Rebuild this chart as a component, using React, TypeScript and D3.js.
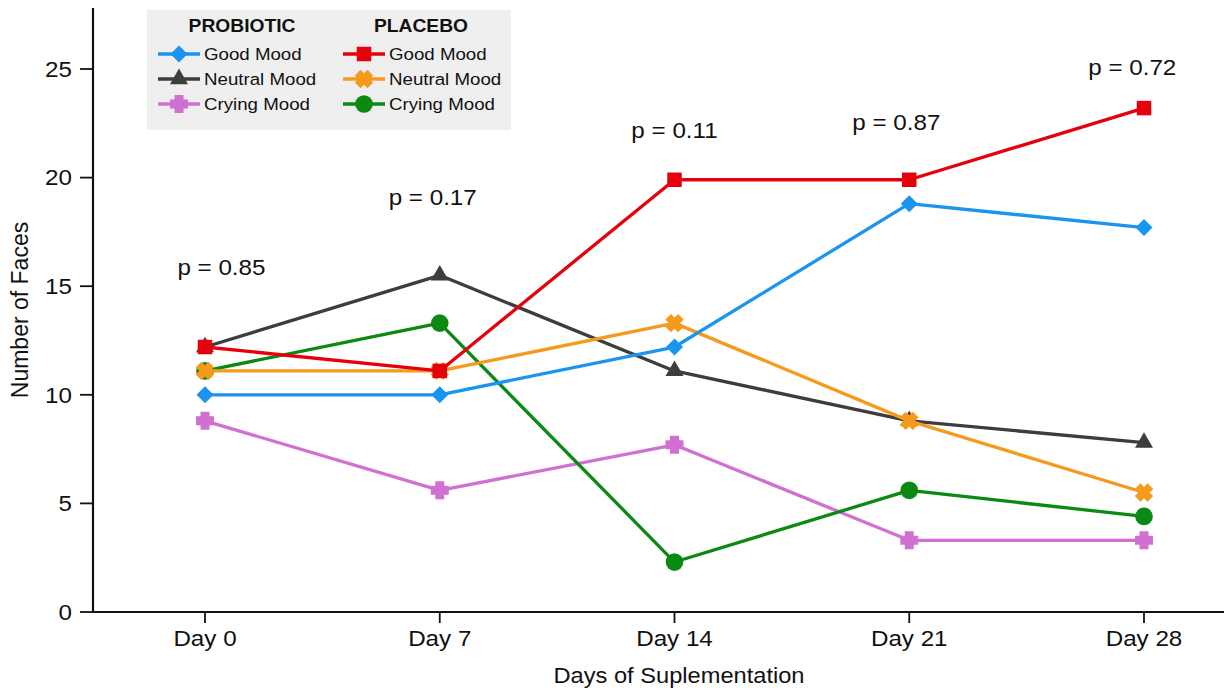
import React from 'react';
import * as d3 from 'd3';

const W = 1224, H = 691;
const margin = { top: 8, right: 0, bottom: 79, left: 93 };

// data
const days = ['Day 0', 'Day 7', 'Day 14', 'Day 21', 'Day 28'];
const yTicks = [0, 5, 10, 15, 20, 25];

const probioticGood = [10, 10, 12.2, 18.8, 17.7];
const probioticNeutral = [12.2, 15.5, 11.1, 8.8, 7.8];
const probioticCrying = [8.8, 5.6, 7.7, 3.3, 3.3];
const placeboGood = [12.2, 11.1, 19.9, 19.9, 23.2];
const placeboNeutral = [11.1, 11.1, 13.3, 8.8, 5.5];
const placeboCrying = [11.1, 13.3, 2.3, 5.6, 4.4];

const pLabels = ['p = 0.85', 'p = 0.17', 'p = 0.11', 'p = 0.87', 'p = 0.72'];
const pY = [15.85, 19.1, 22.2, 22.55, 25.1];
const pShift = [0.07, -0.03, 0.0, -0.055, -0.05];

const FONT = '"Liberation Sans", Arial, sans-serif';
const SX = 1.1; // text looks a bit wider than plain Arial

type Mk = 'diamond' | 'triangle' | 'cross' | 'square' | 'xcross' | 'circle';

const series: { name: string; group: string; values: number[]; color: string; marker: Mk }[] = [
  { name: 'Good Mood', group: 'PROBIOTIC', values: probioticGood, color: '#1a95ef', marker: 'diamond' },
  { name: 'Neutral Mood', group: 'PROBIOTIC', values: probioticNeutral, color: '#3d3d3d', marker: 'triangle' },
  { name: 'Crying Mood', group: 'PROBIOTIC', values: probioticCrying, color: '#d070d0', marker: 'cross' },
  { name: 'Good Mood', group: 'PLACEBO', values: placeboGood, color: '#e5000c', marker: 'square' },
  { name: 'Neutral Mood', group: 'PLACEBO', values: placeboNeutral, color: '#f59a1c', marker: 'xcross' },
  { name: 'Crying Mood', group: 'PLACEBO', values: placeboCrying, color: '#0a8a12', marker: 'circle' },
];

// draw order: back to front as in figure
const drawOrder = [2, 5, 1, 4, 0, 3];

function crossPath(L: number, w: number) {
  const h = w / 2;
  const p = d3.path();
  p.moveTo(-h, -L); p.lineTo(h, -L); p.lineTo(h, -h); p.lineTo(L, -h); p.lineTo(L, h);
  p.lineTo(h, h); p.lineTo(h, L); p.lineTo(-h, L); p.lineTo(-h, h); p.lineTo(-L, h);
  p.lineTo(-L, -h); p.lineTo(-h, -h); p.closePath();
  return p.toString();
}

function markerPath(m: Mk): { d: string; rotate: number } {
  switch (m) {
    case 'diamond': return { d: d3.symbol(d3.symbolSquare, 145)()!, rotate: 45 };
    case 'triangle': return { d: d3.symbol(d3.symbolTriangle, 140)()!, rotate: 0 };
    case 'cross': return { d: crossPath(9, 9), rotate: 0 };
    case 'square': return { d: d3.symbol(d3.symbolSquare, 210)()!, rotate: 0 };
    case 'xcross': return { d: crossPath(9, 8), rotate: 45 };
    case 'circle': return { d: d3.symbol(d3.symbolCircle, 245)()!, rotate: 0 };
  }
}

function Marker({ m, x, y, color }: { m: Mk; x: number; y: number; color: string }) {
  const p = markerPath(m);
  return <path d={p.d} fill={color} transform={`translate(${x},${y}) rotate(${p.rotate})`} />;
}

function T({ x, y, children, anchor = 'start', size = 22, weight = 'normal', dy = '0' }:
  { x: number; y: number; children: React.ReactNode; anchor?: string; size?: number; weight?: string; dy?: string }) {
  return (
    <text transform={`translate(${x},${y}) scale(${SX},1)`} dy={dy} textAnchor={anchor}
      fontSize={size} fontWeight={weight} fill="#111">{children}</text>
  );
}

export default function App() {
  const x = d3.scaleLinear().domain([0, 4]).range([205, 1144]);
  const y = d3.scaleLinear().domain([0, 25]).range([612, 69]);

  const line = d3.line<number>().x((_, i) => x(i)).y(d => y(d));

  const x0 = margin.left;
  const y0 = y(0);

  return (
    <svg width={W} height={H} style={{ position: 'fixed', left: 0, top: 0, background: '#fff' }} fontFamily={FONT}>
      <rect width={W} height={H} fill="#fff" />

      {/* axes */}
      <line x1={x0} x2={x0} y1={margin.top} y2={y0 + 1} stroke="#111" strokeWidth={2.2} />
      <line x1={x0 - 1} x2={W} y1={y0} y2={y0} stroke="#111" strokeWidth={2.2} />
      {yTicks.map(t => (
        <g key={t}>
          <line x1={x0 - 13} x2={x0} y1={y(t)} y2={y(t)} stroke="#111" strokeWidth={1.8} />
          <T x={x0 - 21} y={y(t)} dy="0.35em" anchor="end">{t}</T>
        </g>
      ))}
      {days.map((d, i) => (
        <g key={d}>
          <line x1={x(i)} x2={x(i)} y1={y0} y2={y0 + 11} stroke="#111" strokeWidth={1.8} />
          <T x={x(i)} y={y0 + 34} anchor="middle">{d}</T>
        </g>
      ))}
      <T x={679} y={683} anchor="middle" size={21.5}>Days of Suplementation</T>
      <text transform={`translate(28,310) rotate(-90)`} textAnchor="middle" fontSize={23} fill="#111">Number of Faces</text>

      {/* p-values */}
      {pLabels.map((p, i) => (
        <T key={p} x={x(i + pShift[i])} y={y(pY[i])} dy="0.35em" anchor="middle">{p}</T>
      ))}

      {/* lines */}
      {drawOrder.map(k => {
        const s = series[k];
        return (
          <g key={k}>
            <path d={line(s.values)!} fill="none" stroke={s.color} strokeWidth={3.3} strokeLinejoin="round" />
            {s.values.map((v, i) => <Marker key={i} m={s.marker} x={x(i)} y={y(v)} color={s.color} />)}
          </g>
        );
      })}

      {/* legend */}
      <g>
        <rect x={147} y={10} width={364} height={120} fill="#efefef" />
        <T x={242} y={26} dy="0.35em" anchor="middle" size={17.5} weight="bold">PROBIOTIC</T>
        <T x={421} y={26} dy="0.35em" anchor="middle" size={17.5} weight="bold">PLACEBO</T>
        {series.map((s, k) => {
          const col = k < 3 ? 0 : 1;
          const row = k % 3;
          const lx = col === 0 ? 158 : 343;
          const ly = 54 + row * 25;
          return (
            <g key={k}>
              <line x1={lx} x2={lx + 42} y1={ly} y2={ly} stroke={s.color} strokeWidth={3.3} />
              <Marker m={s.marker} x={lx + 21} y={ly} color={s.color} />
              <T x={lx + 46} y={ly} dy="0.35em" size={17}>{s.name}</T>
            </g>
          );
        })}
      </g>
    </svg>
  );
}
